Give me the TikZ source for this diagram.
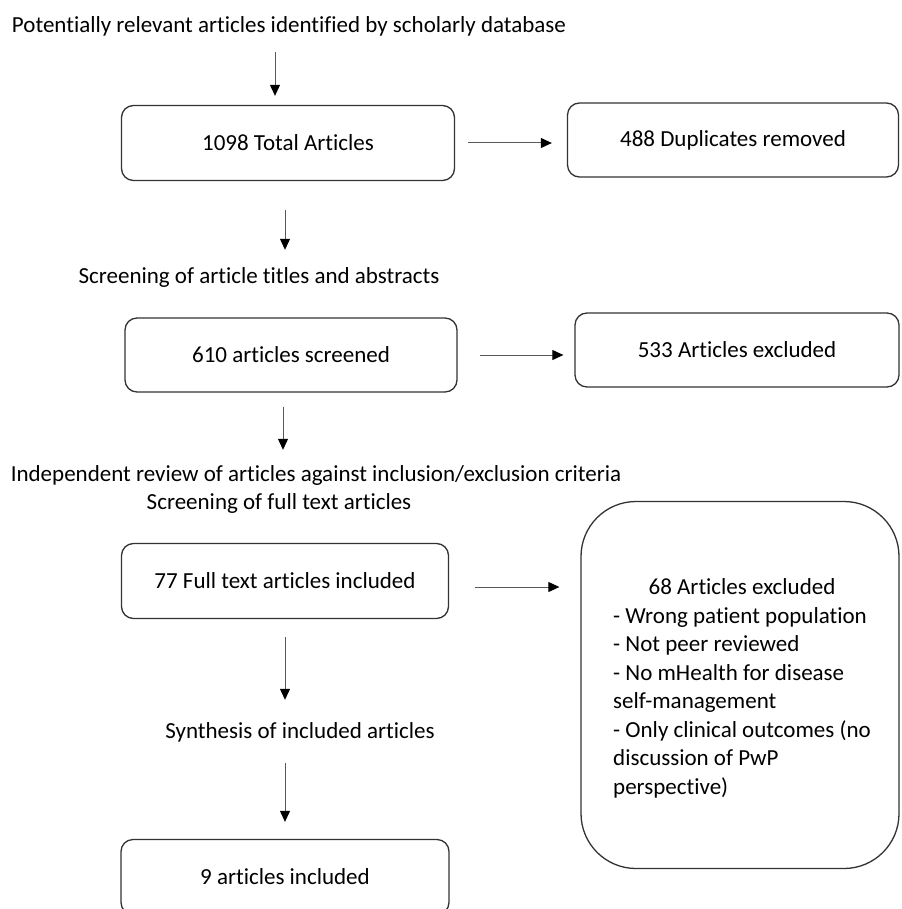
\documentclass[tikz,border=0pt]{standalone}
\usepackage{fontspec}
\setmainfont{Carlito}[Ligatures=NoCommon]
\usetikzlibrary{calc, positioning}
\usetikzlibrary{arrows.meta}
\tikzset{
  font=\fontsize{23}{28.5}\selectfont,
  % Set arrowhead
  >={Triangle[length=11pt, width=10pt, color=black]},
  % Rounded step box
  rbox/.style={draw=black!80, line width=1.3pt, shape=rectangle,
    rounded corners=12pt, minimum height=75pt, inner sep=0pt},
  % Large exclusion box
  xbox/.style={rbox, rounded corners=55pt},
  % Stage caption
  stage/.style={inner sep=0pt, text height=17pt, text depth=5pt},
  % Arrows
  flow/.style={->, draw=black!65, line width=1pt},
}

\begin{document}
\begin{tikzpicture}[x=1pt, y=-1pt]
    \clip (0,0) rectangle (901,909);

    \node[stage] (title) at (289,27)
      {Potentially relevant articles identified by scholarly database};

    \node[rbox, minimum width=333pt] (total) at (288,143) {1098 Total Articles};
    \node[rbox, minimum width=331pt, minimum height=74pt] (dups) at (733,140)
      {488 Duplicates removed};

    \node[stage] (scrA) at (259,277) {Screening of article titles and abstracts};

    \node[rbox, minimum width=332pt, minimum height=74pt] (screened) at (291,355)
      {610 articles screened};
    \node[rbox, minimum width=324pt, minimum height=74pt] (exclA) at (737,350)
      {533 Articles excluded};

    \node[stage] (review) at (316,475)
      {Independent review of articles against inclusion/exclusion criteria};
    \node[stage] (scrB) at (279,503) {Screening of full text articles};

    \node[rbox, minimum width=327pt] (full) at (285,581) {77 Full text articles included};
    \node[xbox, minimum width=318pt, minimum height=367pt] (exclB) at (740,685) {};
    \node[inner sep=0pt] (reasons) at (742,689)
      {\begin{tabular}{@{}l@{}}
       \multicolumn{1}{@{}c@{}}{68 Articles excluded}\\
       - Wrong patient population\\
       - Not peer reviewed\\
       - No mHealth for disease\\
       self-management\\
       - Only clinical outcomes (no\\
       discussion of PwP\\
       perspective)
       \end{tabular}};

    \node[stage] (synth) at (300,732) {Synthesis of included articles};
    \node[rbox, minimum width=328pt] (final) at (285,877) {9 articles included};

    % down the left column
    \draw[flow, shorten <=14pt, shorten >=9pt]
      ([xshift=-13pt]total.north |- title.south) -- ([xshift=-13pt]total.north);
    \draw[flow, shorten <=29pt, shorten >=16pt]
      ([xshift=-3pt]total.south) -- ([xshift=-3pt]total.south |- scrA.north);
    \draw[flow, shorten <=14pt, shorten >=14pt]
      ([xshift=-8pt]screened.south) -- ([xshift=-8pt]screened.south |- review.north);
    \draw[flow, shorten <=18pt, shorten >=21pt]
      (full.south) -- (full.south |- synth.north);
    \draw[flow, shorten <=20pt, shorten >=17pt]
      (full.south |- synth.south) -- (final.north);

    % exclusions to the right
    \draw[flow, shorten <=13pt, shorten >=15pt] (total.east) -- (total.east -| dups.west);
    \draw[flow, shorten <=22pt, shorten >=11pt] (screened.east) -- (screened.east -| exclA.west);
    \draw[flow, shorten <=26pt, shorten >=21pt]
      ([yshift=-6pt]full.east) -- ([yshift=-6pt]full.east -| exclB.west);
  \end{tikzpicture}
\end{document}
